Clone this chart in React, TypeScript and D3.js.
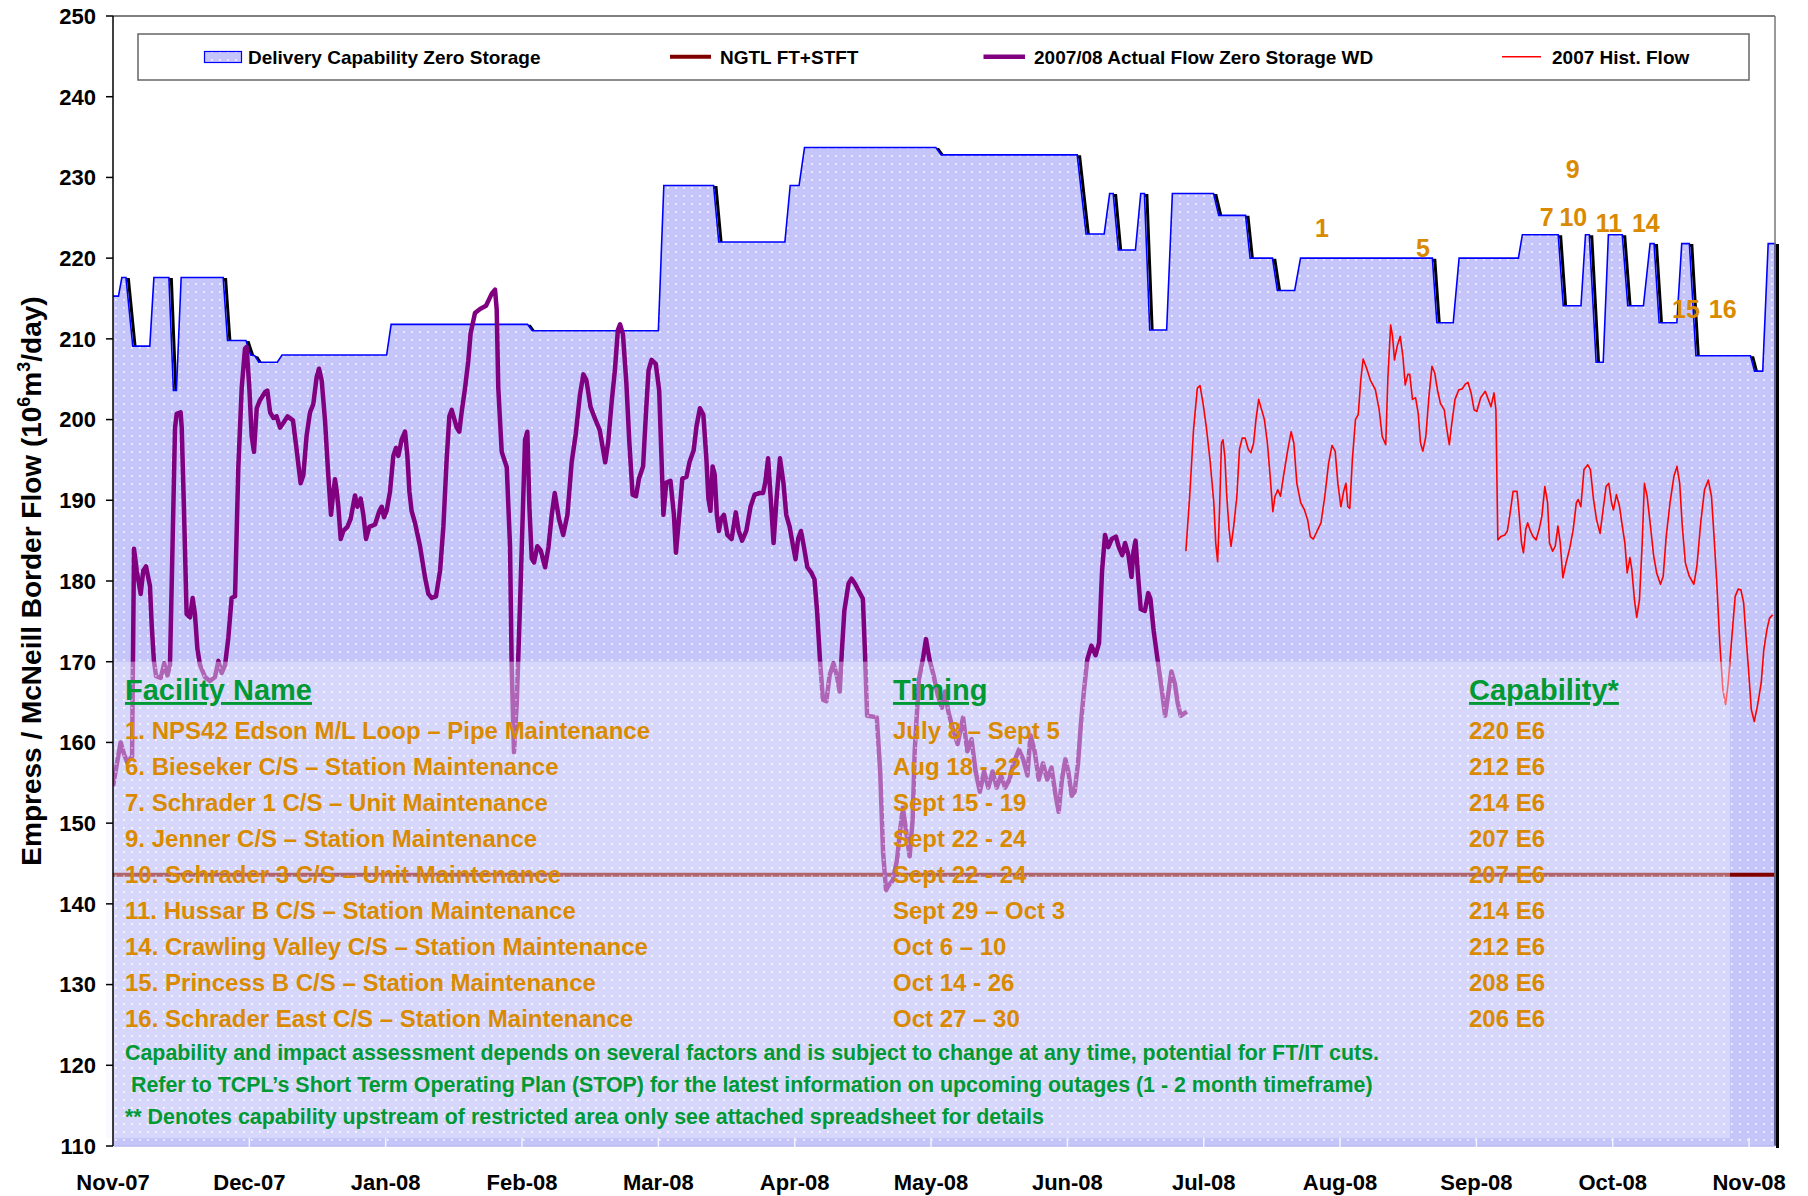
import React, { useEffect } from 'react';
import * as d3 from 'd3';

// x values are months since Nov-07 (0 = Nov 1 2007), y values in 10^6 m3/day
const monthLabels = ['Nov-07', 'Dec-07', 'Jan-08', 'Feb-08', 'Mar-08', 'Apr-08', 'May-08', 'Jun-08', 'Jul-08', 'Aug-08', 'Sep-08', 'Oct-08', 'Nov-08'];
const yTickValues = [110, 120, 130, 140, 150, 160, 170, 180, 190, 200, 210, 220, 230, 240, 250];

const deliveryCapability: [number, number][] = [
  [0, 215.3], [0.04, 215.3], [0.065, 217.6], [0.095, 217.6], [0.145, 209.1], [0.27, 209.1], [0.3, 217.6],
  [0.41, 217.6], [0.443, 203.6], [0.465, 203.6], [0.5, 217.6], [0.808, 217.6], [0.84, 209.8], [0.975, 209.8],
  [1.01, 208.0], [1.04, 207.9], [1.07, 207.1], [1.205, 207.1], [1.24, 208.0], [2.007, 208.0], [2.04, 211.8],
  [3.04, 211.8], [3.075, 211.0], [4.0, 211.0], [4.04, 229.0], [4.405, 229.0], [4.443, 222.0], [4.928, 222.0],
  [4.967, 229.0], [5.032, 229.0], [5.072, 233.7], [6.035, 233.7], [6.074, 232.8], [7.072, 232.8], [7.137, 223.0],
  [7.27, 223.0], [7.31, 228.0], [7.336, 228.0], [7.374, 221.0], [7.499, 221.0], [7.538, 228.0], [7.565, 228.0],
  [7.604, 211.1], [7.728, 211.1], [7.77, 228.0], [8.072, 228.0], [8.11, 225.3], [8.307, 225.3], [8.34, 220.0],
  [8.504, 220.0], [8.54, 216.0], [8.667, 216.0], [8.71, 220.0], [9.677, 220.0], [9.71, 212.0], [9.83, 212.0],
  [9.873, 220.0], [10.308, 220.0], [10.337, 222.9], [10.6, 222.9], [10.637, 214.1], [10.767, 214.1], [10.8, 222.9],
  [10.828, 222.9], [10.878, 207.1], [10.93, 207.1], [10.968, 222.9], [11.07, 222.9], [11.11, 214.1], [11.225, 214.1],
  [11.274, 221.8], [11.303, 221.8], [11.34, 212.0], [11.47, 212.0], [11.506, 221.8], [11.562, 221.8], [11.61, 207.9],
  [12.01, 207.9], [12.04, 206.0], [12.1, 206.0], [12.14, 221.8], [12.19, 221.8],
];

const ngtlFtStft: [number, number][] = [[0, 143.6], [12.19, 143.6]];

const actualFlow0708: [number, number][] = [
  [0, 154.6], [0.056, 160.0], [0.08, 158.6], [0.105, 157.5], [0.14, 158.3], [0.154, 184.0], [0.174, 181.3],
  [0.203, 178.4], [0.222, 181.3], [0.242, 181.8], [0.271, 179.4], [0.284, 174.5], [0.3, 170.1], [0.316, 168.2],
  [0.35, 168.0], [0.376, 169.8], [0.399, 168.3], [0.418, 169.6], [0.455, 199.0], [0.467, 200.7], [0.496, 200.9],
  [0.504, 199.0], [0.52, 189.2], [0.54, 175.9], [0.565, 175.5], [0.584, 177.9], [0.601, 175.9], [0.619, 171.6],
  [0.638, 169.6], [0.675, 168.1], [0.711, 167.6], [0.748, 168.1], [0.773, 170.1], [0.797, 168.6], [0.822, 169.6],
  [0.846, 173.0], [0.87, 177.9], [0.895, 178.1], [0.919, 194.0], [0.944, 203.9], [0.968, 208.8], [0.98, 209.0],
  [1.0, 203.9], [1.017, 198.0], [1.034, 196.0], [1.054, 201.4], [1.078, 202.4], [1.115, 203.4], [1.132, 203.6],
  [1.152, 200.9], [1.176, 200.2], [1.2, 200.4], [1.225, 199.0], [1.25, 199.6], [1.28, 200.4], [1.32, 199.9],
  [1.345, 196.5], [1.376, 192.1], [1.396, 193.1], [1.42, 198.0], [1.445, 200.9], [1.469, 201.9], [1.494, 205.3],
  [1.511, 206.3], [1.531, 204.8], [1.555, 199.9], [1.579, 193.1], [1.599, 188.2], [1.611, 190.2], [1.628, 192.6],
  [1.641, 191.1], [1.653, 189.2], [1.67, 185.2], [1.689, 186.2], [1.719, 186.7], [1.743, 187.7], [1.775, 190.6],
  [1.792, 189.2], [1.817, 190.2], [1.836, 188.2], [1.856, 185.2], [1.88, 186.7], [1.922, 187.0], [1.954, 188.7],
  [1.971, 189.2], [1.988, 187.9], [2.007, 188.7], [2.032, 191.1], [2.056, 195.5], [2.076, 196.5], [2.093, 195.5],
  [2.117, 197.5], [2.142, 198.5], [2.159, 195.5], [2.174, 191.1], [2.19, 188.7], [2.215, 187.2], [2.252, 184.3],
  [2.289, 180.4], [2.313, 178.4], [2.337, 177.9], [2.369, 178.1], [2.399, 181.3], [2.423, 186.7], [2.447, 195.0],
  [2.467, 200.4], [2.484, 201.2], [2.521, 199.0], [2.54, 198.5], [2.557, 200.9], [2.582, 203.9], [2.606, 207.3],
  [2.623, 210.7], [2.655, 213.2], [2.692, 213.7], [2.736, 214.1], [2.778, 215.6], [2.802, 216.1], [2.814, 213.7],
  [2.826, 203.9], [2.851, 196.0], [2.888, 194.1], [2.912, 184.3], [2.924, 169.6], [2.941, 158.8], [2.961, 164.7],
  [2.985, 176.9], [3.022, 197.5], [3.039, 198.5], [3.054, 189.2], [3.071, 182.8], [3.088, 182.3], [3.112, 184.3],
  [3.137, 183.8], [3.169, 181.7], [3.194, 184.2], [3.218, 188.2], [3.24, 190.9], [3.271, 187.7], [3.302, 185.7],
  [3.333, 188.2], [3.364, 194.7], [3.394, 198.2], [3.425, 203.1], [3.45, 205.6], [3.472, 204.9], [3.502, 201.6],
  [3.533, 200.2], [3.57, 198.7], [3.595, 196.2], [3.61, 194.7], [3.632, 197.2], [3.657, 202.1], [3.681, 206.1],
  [3.703, 211.1], [3.719, 211.8], [3.74, 210.6], [3.765, 204.6], [3.787, 197.2], [3.811, 190.7], [3.836, 190.5],
  [3.858, 192.7], [3.888, 194.2], [3.91, 201.1], [3.928, 206.1], [3.95, 207.4], [3.981, 206.9], [4.006, 203.6],
  [4.021, 196.2], [4.037, 188.2], [4.058, 192.2], [4.089, 192.4], [4.114, 188.2], [4.129, 183.5], [4.151, 187.7],
  [4.176, 192.7], [4.206, 192.9], [4.228, 194.7], [4.259, 196.2], [4.28, 199.2], [4.305, 201.4], [4.33, 200.6],
  [4.352, 195.2], [4.367, 190.2], [4.382, 188.7], [4.398, 194.2], [4.413, 193.2], [4.429, 188.2], [4.444, 186.2],
  [4.46, 187.7], [4.481, 188.2], [4.506, 185.7], [4.537, 185.2], [4.568, 188.5], [4.589, 186.2], [4.614, 185.0],
  [4.645, 186.2], [4.676, 189.2], [4.706, 190.7], [4.744, 190.9], [4.768, 190.9], [4.784, 192.2], [4.805, 195.2],
  [4.824, 190.2], [4.845, 184.7], [4.867, 190.2], [4.892, 195.2], [4.917, 192.2], [4.938, 188.2], [4.963, 186.7],
  [4.984, 184.7], [5.006, 182.7], [5.025, 185.2], [5.046, 186.2], [5.068, 184.2], [5.093, 181.7], [5.123, 181.0],
  [5.145, 180.2], [5.164, 176.3], [5.185, 170.3], [5.207, 165.3], [5.232, 165.1], [5.256, 168.3], [5.284, 169.8],
  [5.309, 168.3], [5.33, 166.3], [5.346, 171.3], [5.364, 176.3], [5.395, 179.7], [5.417, 180.3], [5.441, 179.7],
  [5.469, 178.8], [5.5, 177.8], [5.515, 171.3], [5.531, 163.3], [5.571, 163.2], [5.602, 163.1], [5.627, 156.4],
  [5.648, 146.4], [5.67, 141.7], [5.694, 142.4], [5.719, 142.9], [5.75, 145.4], [5.772, 148.9], [5.793, 151.9],
  [5.818, 148.9], [5.843, 145.9], [5.865, 150.4], [5.88, 158.9], [5.911, 167.8], [5.942, 170.5], [5.963, 172.8],
  [5.988, 170.3], [6.019, 168.3], [6.05, 165.8], [6.08, 164.3], [6.102, 166.3], [6.127, 163.8], [6.158, 161.8],
  [6.195, 159.8], [6.235, 163.1], [6.266, 158.9], [6.297, 160.4], [6.327, 156.4], [6.358, 153.9], [6.389, 156.4],
  [6.42, 154.4], [6.451, 156.4], [6.482, 154.4], [6.513, 155.9], [6.543, 154.4], [6.575, 155.4], [6.605, 157.4],
  [6.645, 159.1], [6.676, 157.9], [6.707, 155.9], [6.729, 160.9], [6.76, 158.9], [6.79, 155.4], [6.821, 157.4],
  [6.852, 155.4], [6.883, 156.9], [6.914, 153.4], [6.936, 151.4], [6.96, 155.4], [6.985, 157.9], [7.007, 156.4],
  [7.032, 153.4], [7.053, 153.9], [7.078, 157.4], [7.099, 162.3], [7.121, 166.3], [7.146, 170.3], [7.176, 172.0],
  [7.207, 170.8], [7.232, 172.3], [7.254, 181.2], [7.276, 185.7], [7.3, 184.2], [7.325, 185.2], [7.356, 185.5],
  [7.377, 184.2], [7.402, 183.2], [7.423, 184.7], [7.448, 183.2], [7.47, 180.5], [7.485, 183.7], [7.5, 185.0],
  [7.516, 181.2], [7.538, 176.5], [7.568, 176.3], [7.593, 178.5], [7.609, 177.8], [7.633, 173.8], [7.661, 170.3],
  [7.686, 167.3], [7.717, 163.3], [7.738, 165.8], [7.763, 168.8], [7.788, 167.3], [7.81, 164.8], [7.831, 163.3],
  [7.856, 163.6], [7.877, 163.8],
];

const histFlow2007: [number, number][] = [
  [7.869, 183.7], [7.897, 190.5], [7.925, 198.7], [7.953, 203.9], [7.973, 204.2], [7.995, 202.0], [8.018, 199.2],
  [8.046, 195.0], [8.074, 189.7], [8.088, 184.7], [8.102, 182.4], [8.116, 188.8], [8.13, 197.1], [8.141, 197.5],
  [8.155, 195.4], [8.169, 190.5], [8.186, 186.4], [8.2, 184.3], [8.22, 186.8], [8.243, 190.5], [8.262, 196.3],
  [8.282, 197.7], [8.304, 197.7], [8.327, 196.3], [8.346, 195.9], [8.366, 197.1], [8.383, 200.0], [8.403, 202.5],
  [8.425, 201.2], [8.445, 200.0], [8.467, 197.1], [8.487, 193.0], [8.507, 188.6], [8.523, 190.5], [8.543, 191.3],
  [8.563, 190.5], [8.585, 193.0], [8.613, 195.9], [8.641, 198.5], [8.661, 197.1], [8.683, 192.1], [8.711, 189.7],
  [8.739, 188.8], [8.762, 187.6], [8.782, 185.5], [8.804, 185.2], [8.832, 186.2], [8.86, 187.2], [8.888, 190.5],
  [8.916, 194.6], [8.941, 196.8], [8.964, 196.1], [8.984, 192.1], [9.006, 189.2], [9.026, 191.1], [9.043, 192.1],
  [9.057, 189.2], [9.071, 189.0], [9.09, 195.0], [9.113, 200.0], [9.133, 200.6], [9.152, 204.9], [9.169, 207.5],
  [9.194, 206.4], [9.222, 204.9], [9.259, 203.7], [9.287, 201.2], [9.309, 197.9], [9.335, 196.9], [9.351, 205.3],
  [9.371, 211.7], [9.385, 210.3], [9.399, 207.4], [9.419, 209.1], [9.441, 210.3], [9.461, 207.8], [9.478, 204.3],
  [9.497, 205.6], [9.511, 205.6], [9.531, 202.5], [9.554, 202.7], [9.573, 200.8], [9.59, 197.1], [9.607, 196.1],
  [9.629, 197.9], [9.652, 202.9], [9.674, 206.6], [9.694, 205.8], [9.714, 203.7], [9.736, 202.0], [9.764, 201.2],
  [9.784, 198.7], [9.801, 196.9], [9.82, 199.6], [9.843, 202.5], [9.871, 203.7], [9.896, 203.8], [9.919, 204.4],
  [9.938, 204.6], [9.961, 203.3], [9.983, 201.2], [10.003, 201.0], [10.031, 202.7], [10.065, 203.5], [10.087, 202.5],
  [10.107, 201.6], [10.129, 203.3], [10.143, 201.2], [10.157, 185.1], [10.18, 185.5], [10.208, 185.7], [10.227, 186.2],
  [10.247, 188.4], [10.269, 191.1], [10.298, 191.1], [10.311, 188.8], [10.331, 184.7], [10.345, 183.5], [10.362, 186.4],
  [10.376, 187.2], [10.396, 186.2], [10.416, 185.5], [10.438, 185.1], [10.46, 186.4], [10.48, 188.0], [10.502, 191.7],
  [10.522, 189.7], [10.536, 184.7], [10.559, 183.7], [10.578, 184.3], [10.598, 186.8], [10.615, 184.7], [10.634, 180.4],
  [10.657, 182.2], [10.685, 184.1], [10.71, 186.4], [10.733, 189.7], [10.747, 190.1], [10.766, 189.2], [10.789, 193.8],
  [10.817, 194.4], [10.836, 193.8], [10.859, 190.1], [10.881, 187.6], [10.907, 185.9], [10.929, 188.8], [10.951, 191.7],
  [10.971, 192.1], [10.991, 189.7], [11.005, 188.8], [11.027, 190.7], [11.05, 189.2], [11.07, 186.8], [11.089, 184.7],
  [11.106, 181.0], [11.126, 182.9], [11.14, 181.4], [11.159, 177.7], [11.176, 175.5], [11.196, 177.7], [11.216, 184.7],
  [11.232, 192.1], [11.252, 190.5], [11.274, 187.2], [11.3, 183.1], [11.322, 181.0], [11.35, 179.6], [11.37, 180.6],
  [11.392, 185.5], [11.42, 189.7], [11.449, 193.0], [11.471, 194.2], [11.491, 192.1], [11.51, 186.8], [11.533, 182.2],
  [11.561, 180.6], [11.595, 179.6], [11.617, 181.8], [11.645, 187.2], [11.673, 191.3], [11.701, 192.5], [11.724, 190.5],
  [11.743, 185.5], [11.763, 179.8], [11.785, 172.3], [11.808, 166.5], [11.828, 164.7], [11.847, 167.4], [11.87, 172.3],
  [11.898, 178.1], [11.92, 179.0], [11.94, 178.9], [11.96, 177.3], [11.977, 173.2], [11.996, 169.0], [12.016, 164.1],
  [12.038, 162.6], [12.061, 164.5], [12.089, 167.4], [12.108, 171.5], [12.131, 174.0], [12.15, 175.4], [12.173, 175.8],
];

// outage numbers placed over the capability line (month, flow)
const outageLabels = ['1', '5', '9', '7', '10', '11', '14', '15', '16'];
const outageMonths = [8.868, 9.607, 10.707, 10.516, 10.711, 10.972, 11.243, 11.537, 11.806];
const outageFlows = [222.6, 220.1, 229.9, 224.0, 224.0, 223.3, 223.3, 212.6, 212.6];

const facilityNames = [
  '1. NPS42 Edson M/L Loop \u2013 Pipe Maintenance',
  '6. Bieseker C/S \u2013 Station Maintenance',
  '7. Schrader 1 C/S \u2013 Unit Maintenance',
  '9. Jenner C/S \u2013 Station Maintenance',
  '10. Schrader 3 C/S \u2013 Unit Maintenance',
  '11. Hussar B C/S \u2013 Station Maintenance',
  '14. Crawling Valley C/S \u2013 Station Maintenance',
  '15. Princess B C/S \u2013 Station Maintenance',
  '16. Schrader East C/S \u2013 Station Maintenance',
];
const timings = ['July 8 \u2013 Sept 5', 'Aug 18 - 22', 'Sept 15 - 19', 'Sept 22 - 24', 'Sept 22 - 24', 'Sept 29 \u2013 Oct 3', 'Oct 6 \u2013 10', 'Oct 14 - 26', 'Oct 27 \u2013 30'];
const capabilities = ['220 E6', '212 E6', '214 E6', '207 E6', '207 E6', '214 E6', '212 E6', '208 E6', '206 E6'];
const footnotes = [
  'Capability and impact assessment depends on several factors and is subject to change at any time, potential for FT/IT cuts.',
  ' Refer to TCPL\u2019s Short Term Operating Plan (STOP) for the latest information on upcoming outages (1 - 2 month timeframe)',
  '** Denotes capability upstream of restricted area only see attached spreadsheet for details',
];

const W = 1808;
const H = 1196;
const plot = { left: 113, right: 1775, top: 16, bottom: 1146 };
const FONT = '"Liberation Sans", Arial, sans-serif';
const ORANGE = '#D98A00';
const GREEN = '#009933';
const AREA = '#C5C5F9';

export default function App() {
  useEffect(() => {
    document.body.style.margin = '0';
  }, []);

  const x = d3.scaleLinear().domain([0, 12.19]).range([plot.left, plot.right]);
  const y = d3.scaleLinear().domain([110, 250]).range([plot.bottom, plot.top]);

  const line = d3.line<[number, number]>().x(d => x(d[0])).y(d => y(d[1]));
  const area = d3.area<[number, number]>().x(d => x(d[0])).y0(y(110)).y1(d => y(d[1]));
  const last = deliveryCapability[deliveryCapability.length - 1];
  const outline = line([...deliveryCapability, [last[0], 110]]) || '';

  // text box that sits over the lower part of the plot
  const box = { x: 106, y: y(170), w: 1730 - 106, h: 1138 - y(170) };
  const rowY = (i: number) => 738.5 + i * 36;

  return (
    <svg width={W} height={H} style={{ position: 'absolute', left: 0, top: 0, background: '#fff' }} fontFamily={FONT} fontWeight="bold">
      <defs>
        <pattern id="dots" width={8} height={8} patternUnits="userSpaceOnUse">
          <rect width={8} height={8} fill={AREA} />
          <rect x={3} y={3} width={1.7} height={1.7} fill="#fff" opacity={0.85} />
        </pattern>
        <pattern id="dotsLight" width={8} height={8} patternUnits="userSpaceOnUse">
          <rect x={3} y={3} width={1.7} height={1.7} fill="#fff" opacity={0.5} />
        </pattern>
        <clipPath id="plotClip">
          <rect x={plot.left} y={plot.top} width={plot.right - plot.left} height={plot.bottom - plot.top} />
        </clipPath>
      </defs>

      <rect width={W} height={H} fill="#fff" />

      {/* capability: shadow, fill, outline */}
      <path d={outline} fill="none" stroke="#000" strokeWidth={3} transform="translate(2.5,2)" />
      <path d={area(deliveryCapability) || ''} fill="url(#dots)" />
      <path d={outline} fill="none" stroke="#0000FF" strokeWidth={1.6} />

      <g clipPath="url(#plotClip)">
        <path d={line(ngtlFtStft) || ''} fill="none" stroke="#800000" strokeWidth={4} />
        <path d={line(actualFlow0708) || ''} fill="none" stroke="#800080" strokeWidth={4.5} strokeLinejoin="round" />
        <path d={line(histFlow2007) || ''} fill="none" stroke="#FF0000" strokeWidth={1.6} strokeLinejoin="round" />
      </g>

      {/* semi-transparent outage table */}
      <rect x={box.x} y={box.y} width={box.w} height={box.h} fill="#F0F0FF" opacity={0.42} />
      <rect x={box.x} y={box.y} width={box.w} height={box.h} fill="url(#dotsLight)" />

      <g fontSize={29} fill={GREEN} style={{ textDecoration: 'underline' }}>
        <text x={125} y={700}>Facility Name</text>
        <text x={893} y={700}>Timing</text>
        <text x={1469} y={700}>Capability*</text>
      </g>
      <g fontSize={24} fill={ORANGE}>
        {facilityNames.map((t, i) => <text key={'f' + i} x={125} y={rowY(i)}>{t}</text>)}
        {timings.map((t, i) => <text key={'t' + i} x={893} y={rowY(i)}>{t}</text>)}
        {capabilities.map((t, i) => <text key={'c' + i} x={1469} y={rowY(i)}>{t}</text>)}
      </g>
      <g fontSize={21.4} fill={GREEN}>
        {footnotes.map((t, i) => <text key={'n' + i} x={125} y={1060 + i * 32} style={{ whiteSpace: 'pre' }}>{t}</text>)}
      </g>

      {/* outage numbers */}
      <g fontSize={25} fill={ORANGE} textAnchor="middle">
        {outageLabels.map((t, i) => <text key={'o' + i} x={x(outageMonths[i])} y={y(outageFlows[i])}>{t}</text>)}
      </g>

      {/* frame and axes */}
      <line x1={plot.left} x2={plot.right} y1={plot.top} y2={plot.top} stroke="#555" strokeWidth={1.5} />
      <line x1={plot.right} x2={plot.right} y1={plot.top} y2={plot.bottom} stroke="#777" strokeWidth={1.5} />
      <line x1={plot.left} x2={plot.right} y1={plot.bottom} y2={plot.bottom} stroke="#B8B8F0" strokeWidth={1.5} />
      {monthLabels.map((m, i) => (
        <line key={'xt' + i} x1={x(i)} x2={x(i)} y1={plot.bottom - 8} y2={plot.bottom + 1} stroke="#F4F4FF" strokeWidth={1.5} />
      ))}
      <line x1={plot.left} x2={plot.left} y1={plot.top} y2={plot.bottom} stroke="#000" strokeWidth={1.5} />
      {yTickValues.map(v => (
        <g key={'yt' + v}>
          <line x1={plot.left - 7} x2={plot.left} y1={y(v)} y2={y(v)} stroke="#000" strokeWidth={1.5} />
          <text x={96} y={y(v)} dy="0.36em" textAnchor="end" fontSize={22} fill="#000">{v}</text>
        </g>
      ))}
      {monthLabels.map((m, i) => (
        <text key={'xl' + i} x={x(i)} y={1190} textAnchor="middle" fontSize={22} fill="#000">{m}</text>
      ))}

      <text transform={`translate(41,${(plot.top + plot.bottom) / 2}) rotate(-90)`} textAnchor="middle" fontSize={28} fill="#000">
        Empress / McNeill Border Flow (10<tspan dy={-11} fontSize={18}>6</tspan><tspan dy={11}>m</tspan><tspan dy={-11} fontSize={18}>3</tspan><tspan dy={11}>/day)</tspan>
      </text>

      {/* legend */}
      <rect x={138} y={34} width={1611} height={46} fill="#fff" stroke="#666" strokeWidth={1.5} />
      <rect x={204.5} y={51.5} width={37} height={11} fill="url(#dots)" stroke="#0000FF" strokeWidth={1.2} />
      <g fontSize={19} fill="#000">
        <text x={248} y={63.5}>Delivery Capability Zero Storage</text>
        <line x1={670} x2={711} y1={56.7} y2={56.7} stroke="#800000" strokeWidth={4} />
        <text x={720} y={63.5}>NGTL FT+STFT</text>
        <line x1={983.5} x2={1025} y1={56.7} y2={56.7} stroke="#800080" strokeWidth={4.5} />
        <text x={1034} y={63.5}>2007/08 Actual Flow Zero Storage WD</text>
        <line x1={1502} x2={1541} y1={56.7} y2={56.7} stroke="#FF0000" strokeWidth={1.6} />
        <text x={1552} y={63.5}>2007 Hist. Flow</text>
      </g>
    </svg>
  );
}
